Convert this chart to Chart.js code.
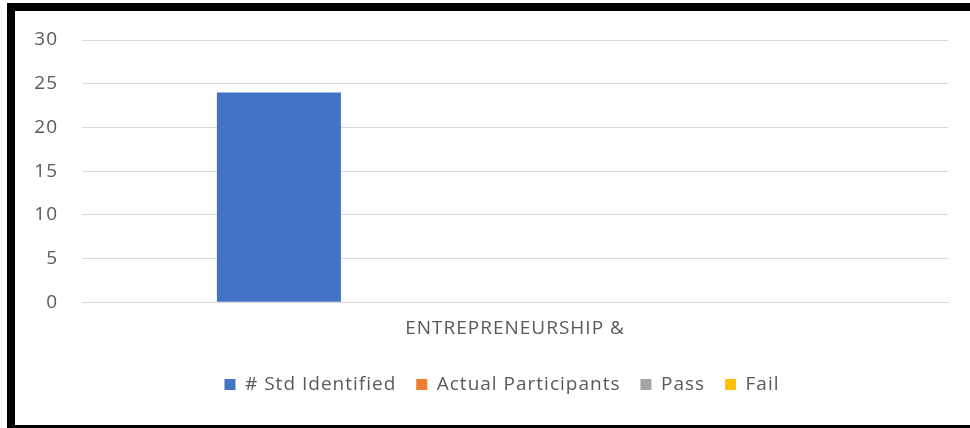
<!DOCTYPE html>
<html>
<head>
<meta charset="utf-8">
<script src="https://cdn.jsdelivr.net/npm/chart.js@4"></script>
<style>
  html, body { margin: 0; padding: 0; background: #fff; }
  #frame { position: absolute; left: 7px; top: 3px; width: 963px; height: 425px; box-sizing: border-box;
           border-top: 8px solid #000; border-left: 8px solid #000; border-bottom: 3px solid #000; }
  #wrap { position: absolute; left: 0; top: 0; width: 970px; height: 428px; }
</style>
</head>
<body>
<div id="frame"></div>
<div id="wrap"><canvas id="c" width="970" height="428"></canvas></div>
<script>
const categories = ["ENTREPRENEURSHIP &"];
const seriesNames = ["# Std Identified", "Actual Participants", "Pass", "Fail"];
const stdIdentified = [24];
const actualParticipants = [0];
const pass = [0];
const fail = [0];
const yTicks = [0, 5, 10, 15, 20, 25, 30];
const colors = ["#4472C4", "#ED7D31", "#A5A5A5", "#FFC000"];

const FONT = "'Open Sans', sans-serif";
const TXT = "#595959";
const FS = 19;
const LEGEND_SHIFT = 28;

const spacing = {
  id: 'spacing',
  beforeInit(c) { c.ctx.letterSpacing = '1px'; },
  beforeUpdate(c) { c.ctx.letterSpacing = '1px'; },
  beforeLayout(c) { c.ctx.letterSpacing = '1px'; },
  afterLayout(c) {
    if (c.legend) { c.legend.left += LEGEND_SHIFT; c.legend.right += LEGEND_SHIFT; }
  },
  beforeDraw(c) { c.ctx.letterSpacing = '1px'; }
};

new Chart(document.getElementById('c'), {
  type: 'bar',
  plugins: [spacing],
  data: {
    labels: categories,
    datasets: [stdIdentified, actualParticipants, pass, fail].map((d, i) => ({
      label: seriesNames[i], data: d, backgroundColor: colors[i], borderWidth: 0,
      categoryPercentage: 0.727, barPercentage: 0.788
    }))
  },
  options: {
    responsive: false, animation: false,
    layout: { padding: { top: 40, right: 22, bottom: 24, left: 0 } },
    plugins: {
      tooltip: { enabled: false },
      legend: {
        position: 'bottom',
        labels: { color: TXT, font: { family: FONT, size: FS }, boxWidth: 11, boxHeight: 11, padding: 20 }
      }
    },
    scales: {
      x: {
        grid: { display: false, drawTicks: false },
        border: { display: true, color: '#D9D9D9' },
        ticks: { color: TXT, font: { family: FONT, size: FS }, padding: 15, maxRotation: 0 }
      },
      y: {
        min: 0, max: 30,
        afterFit: s => { s.width = 82; },
        afterBuildTicks: s => { s.ticks = yTicks.map(v => ({ value: v })); },
        grid: { color: '#D9D9D9', drawTicks: false },
        border: { display: false },
        ticks: { color: TXT, font: { family: FONT, size: FS }, padding: 24 }
      }
    }
  }
});
</script>
</body>
</html>
